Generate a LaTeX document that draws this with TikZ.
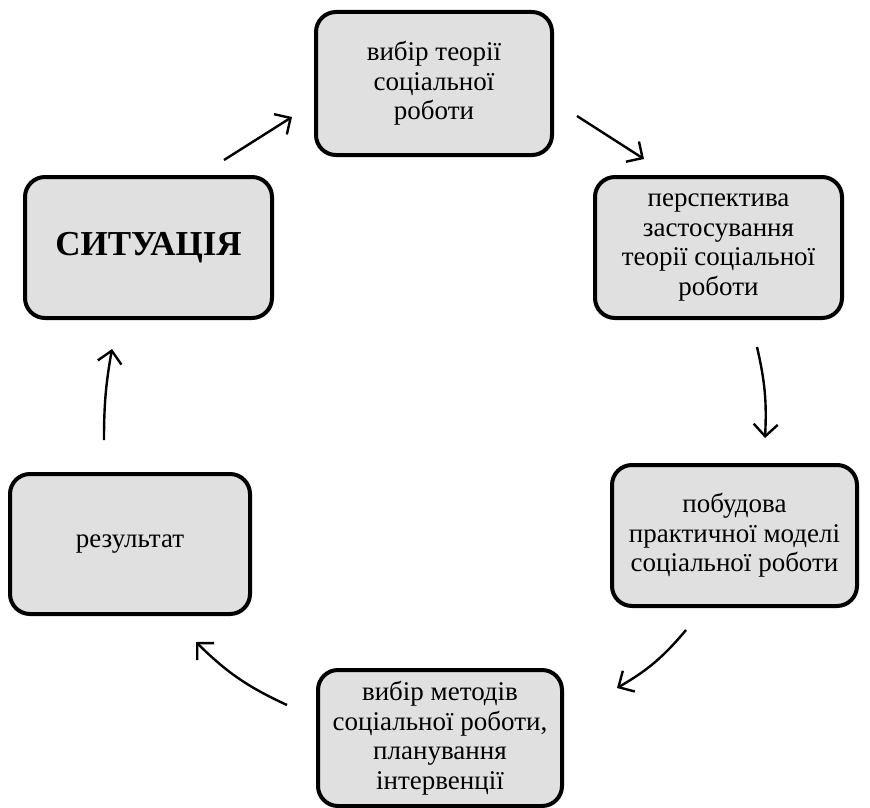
\documentclass[tikz,border=0pt]{standalone}
\usepackage{fontspec}
\setmainfont{Liberation Serif}
\usetikzlibrary{arrows.meta}
\begin{document}
\begin{tikzpicture}[x=1pt,y=-1pt,
  box/.style={draw=black, line width=4pt, rounded corners=20pt, fill=boxgray,
    align=center, inner sep=0pt, font=\fontsize{27}{29.5}\selectfont},
  flow/.style={line width=2.4pt, -{Straight Barb[length=12pt,width=24pt,line width=2.4pt]}}]
\definecolor{boxgray}{HTML}{E0E0E0}
\useasboundingbox (0,0) rectangle (870,808);
\node[box, minimum width=236pt, minimum height=143pt] (teor) at (434,83.5) {вибір теорії\\соціальної\\роботи};
\node[box, minimum width=247pt, minimum height=141pt, font=\fontsize{35}{40}\selectfont\bfseries] (sit) at (148.5,247.5) {СИТУАЦІЯ};
\node[box, minimum width=247pt, minimum height=141pt] (persp) at (718.5,247.5) {перспектива\\застосування\\теорії соціальної\\роботи};
\node[box, minimum width=245pt, minimum height=141pt] (model) at (734.5,535.5) {побудова\\практичної моделі\\соціальної роботи};
\node[box, minimum width=244pt, minimum height=136pt] (metod) at (440,738) {вибір методів\\соціальної роботи,\\планування\\інтервенції};
\node[box, minimum width=240pt, minimum height=140pt] (rez) at (130,544) {результат};
\coordinate (a1s) at (224,160); \coordinate (a1e) at (292,117);
\coordinate (a2s) at (577,116); \coordinate (a2e) at (644,159);
\coordinate (a3s) at (757,347); \coordinate (a3e) at (765,438);
\coordinate (a4s) at (686,630); \coordinate (a4e) at (617,688);
\coordinate (a5s) at (287,705); \coordinate (a5e) at (196,642);
\coordinate (a6s) at (104,440); \coordinate (a6e) at (112,349);
\draw[flow] (a1s) -- (a1e);
\draw[flow] (a2s) -- (a2e);
\draw[flow] (a3s) to[bend left=8] (a3e);
\draw[flow] (a4s) to[bend left=10] (a4e);
\draw[flow] (a5s) to[bend right=-10] (a5e);
\draw[flow] (a6s) to[bend left=5] (a6e);
\end{tikzpicture}
\end{document}
